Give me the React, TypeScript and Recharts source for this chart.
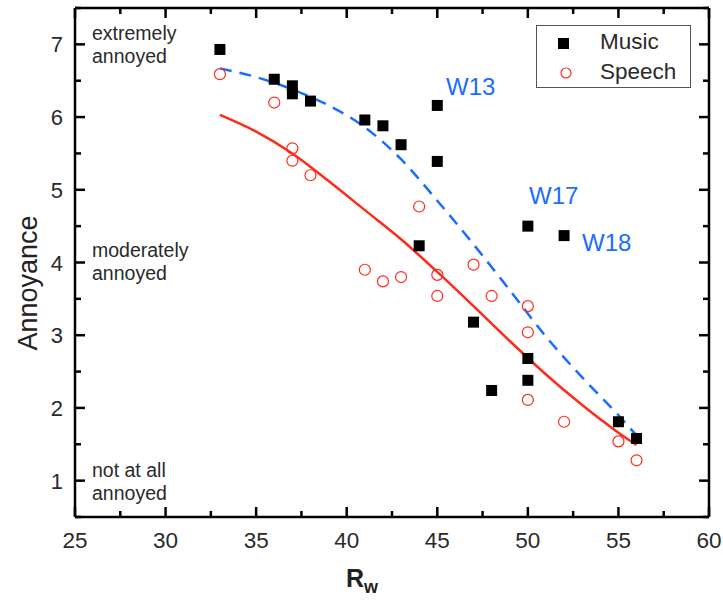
import React from "react";
import { ComposedChart, XAxis, YAxis, Scatter, Line, ReferenceLine } from "recharts";

// axis ticks (major every 5 / 1, minor halfway)
const xTicks = [25, 27.5, 30, 32.5, 35, 37.5, 40, 42.5, 45, 47.5, 50, 52.5, 55, 57.5, 60];
const yTicks = [0.5, 1, 1.5, 2, 2.5, 3, 3.5, 4, 4.5, 5, 5.5, 6, 6.5, 7, 7.5];

// measured points
const musicRw = [33, 36, 37, 37, 38, 41, 42, 43, 45, 45, 44, 50, 52, 47, 50, 50, 48, 55, 56];
const musicAnnoy = [6.93, 6.52, 6.43, 6.32, 6.22, 5.96, 5.88, 5.62, 6.16, 5.39, 4.23, 4.5, 4.37, 3.18, 2.68, 2.38, 2.24, 1.81, 1.58];

const speechRw = [33, 36, 37, 37, 38, 44, 41, 42, 43, 45, 45, 47, 48, 50, 50, 50, 52, 55, 56];
const speechAnnoy = [6.59, 6.2, 5.57, 5.4, 5.2, 4.77, 3.9, 3.74, 3.8, 3.83, 3.54, 3.97, 3.54, 3.4, 3.04, 2.11, 1.81, 1.54, 1.28];

// fitted curves
const fitRw = [33, 35, 37, 39, 41, 43, 45, 47, 49, 51, 53, 55, 56];
const musicFit = [6.67, 6.55, 6.38, 6.16, 5.86, 5.42, 4.85, 4.25, 3.62, 2.98, 2.42, 1.9, 1.62];
const speechFit = [6.03, 5.8, 5.5, 5.12, 4.72, 4.32, 3.87, 3.4, 2.92, 2.46, 2.04, 1.66, 1.49];

const zip = (xs: number[], ys: number[]) => xs.map((x, i) => ({ x, y: ys[i] }));
const musicData = zip(musicRw, musicAnnoy);
const speechData = zip(speechRw, speechAnnoy);
const musicFitData = zip(fitRw, musicFit);
const speechFitData = zip(fitRw, speechFit);

const FONT = '"Liberation Sans", Arial, sans-serif';
const TEXT = "#2a2a2a";
const BLUE = "#1a6dff";
const RED = "#ff2a1a";
const FRAME = "#000";
const PLOT_TOP = 8;
const PLOT_RIGHT = 709;

function BottomTick({ x, y, payload }: any) {
  const major = payload.value % 5 === 0;
  const len = major ? 10 : 6;
  return (
    <g>
      <line x1={x} x2={x} y1={y} y2={y - len} stroke={FRAME} strokeWidth={2.5} />
      {/* mirrored tick on the top edge */}
      <line x1={x} x2={x} y1={PLOT_TOP} y2={PLOT_TOP + len} stroke={FRAME} strokeWidth={2.5} />
      {major && (
        <text x={x} y={y + 31} textAnchor="middle" fontSize={22.5} fill={TEXT} fontFamily={FONT}>
          {payload.value}
        </text>
      )}
    </g>
  );
}

function LeftTick({ x, y, payload }: any) {
  const major = Number.isInteger(payload.value);
  const len = major ? 10 : 6;
  return (
    <g>
      <line x1={x} x2={x + len} y1={y} y2={y} stroke={FRAME} strokeWidth={2.5} />
      {/* mirrored tick on the right edge */}
      <line x1={PLOT_RIGHT} x2={PLOT_RIGHT - len} y1={y} y2={y} stroke={FRAME} strokeWidth={2.5} />
      {major && (
        <text x={x - 12} y={y + 8} textAnchor="end" fontSize={22} fill={TEXT} fontFamily={FONT}>
          {payload.value}
        </text>
      )}
    </g>
  );
}

const Square = (p: any) => <rect x={p.cx - 5.5} y={p.cy - 5.5} width={11} height={11} fill="#000" />;
const Ring = (p: any) => <circle cx={p.cx} cy={p.cy} r={5.5} fill="none" stroke={RED} strokeWidth={1.2} />;

const note = (left: number, top: number, lines: string[]) => (
  <div style={{ position: "absolute", left, top, fontSize: 19.5, lineHeight: "23px", color: TEXT }}>
    {lines.map((l) => (
      <div key={l}>{l}</div>
    ))}
  </div>
);

const tag = (left: number, top: number, t: string) => (
  <div style={{ position: "absolute", left, top, fontSize: 24, lineHeight: "28px", color: BLUE }}>{t}</div>
);

export default function App() {
  return (
    <div style={{ position: "absolute", left: 0, top: 0, width: 723, height: 605, background: "#fff", fontFamily: FONT }}>
      <ComposedChart width={723} height={605} margin={{ top: PLOT_TOP, right: 723 - PLOT_RIGHT, bottom: 0, left: 0 }}>
        <XAxis
          xAxisId="b" dataKey="x" type="number" domain={[25, 60]} ticks={xTicks} interval={0}
          height={88} tickSize={0} tickMargin={0} tick={<BottomTick />} tickLine={false}
          stroke={FRAME} axisLine={{ stroke: FRAME, strokeWidth: 2.5 }}
        />
        <YAxis
          yAxisId="l" dataKey="y" type="number" domain={[0.5, 7.5]} ticks={yTicks} interval={0}
          width={75} tickSize={0} tickMargin={0} tick={<LeftTick />} tickLine={false}
          stroke={FRAME} axisLine={{ stroke: FRAME, strokeWidth: 2.5 }}
        />
        <ReferenceLine xAxisId="b" yAxisId="l" y={7.5} stroke={FRAME} strokeWidth={2.5} />
        <ReferenceLine xAxisId="b" yAxisId="l" x={60} stroke={FRAME} strokeWidth={2.5} />
        <Line
          xAxisId="b" yAxisId="l" data={musicFitData} dataKey="y" type="monotone" stroke={BLUE}
          strokeWidth={2.5} strokeDasharray="12 8" dot={false} isAnimationActive={false}
        />
        <Line
          xAxisId="b" yAxisId="l" data={speechFitData} dataKey="y" type="monotone" stroke={RED}
          strokeWidth={2.5} dot={false} isAnimationActive={false}
        />
        <Scatter xAxisId="b" yAxisId="l" data={speechData} dataKey="y" shape={Ring} isAnimationActive={false} />
        <Scatter xAxisId="b" yAxisId="l" data={musicData} dataKey="y" shape={Square} isAnimationActive={false} />
      </ComposedChart>

      {note(92, 22, ["extremely", "annoyed"])}
      {note(92, 239, ["moderately", "annoyed"])}
      {note(92, 459, ["not at all", "annoyed"])}
      {tag(446, 73, "W13")}
      {tag(529, 182, "W17")}
      {tag(582, 229, "W18")}

      <div
        style={{
          position: "absolute", left: 536, top: 25, width: 155, height: 63,
          border: "1px solid #555", boxSizing: "border-box", background: "#fff",
        }}
      >
        <svg width={40} height={62} style={{ position: "absolute", left: 0, top: 0 }}>
          <rect x={21} y={12} width={11} height={11} fill="#000" />
          <circle cx={29} cy={47} r={5} fill="none" stroke={RED} strokeWidth={1.2} />
        </svg>
        <div style={{ position: "absolute", left: 63, top: 3, fontSize: 22.5, color: TEXT }}>Music</div>
        <div style={{ position: "absolute", left: 63, top: 33, fontSize: 22.5, color: TEXT }}>Speech</div>
      </div>

      <div
        style={{
          position: "absolute", left: 28, top: 283, transform: "translate(-50%, -50%) rotate(-90deg)",
          fontSize: 27, color: "#222", whiteSpace: "nowrap",
        }}
      >
        Annoyance
      </div>
      <div style={{ position: "absolute", left: 346, top: 564, fontSize: 25, fontWeight: "bold", color: "#222" }}>
        R<sub style={{ fontSize: 18 }}>w</sub>
      </div>
    </div>
  );
}
